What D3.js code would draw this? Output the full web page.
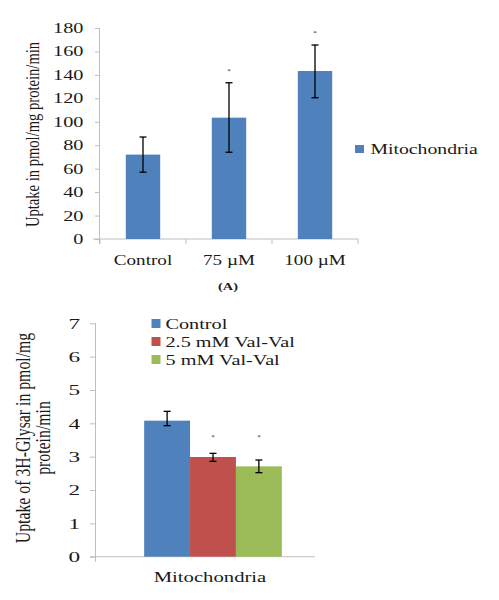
<!DOCTYPE html>
<html><head><meta charset="utf-8">
<script src="https://cdn.jsdelivr.net/npm/d3@7"></script>
<style>
html,body{margin:0;padding:0;background:#fff;}
svg{display:block;}
svg text{font-family:"Liberation Serif","Times New Roman",Times,serif !important;}
</style></head>
<body>
<svg id="chart" width="499" height="600"></svg>
<script>
// ---------- data: chart A ----------
const topCategories = ["Control", "75 \u00B5M", "100 \u00B5M"];
const topValues = [72, 103.5, 143.3];
const topErrLow = [57, 74, 120.5];
const topErrHigh = [87, 133.3, 165.5];
const topSignificant = [false, true, true];
const topYTicks = [0, 20, 40, 60, 80, 100, 120, 140, 160, 180];
const topSeriesName = "Mitochondria";
const topYTitle = "Uptake in pmol/mg protein/min";
const panelLabel = "(A)";

// ---------- data: chart B ----------
const bottomGroups = ["Mitochondria"];
const bottomSeries = ["Control", "2.5 mM Val-Val", "5 mM Val-Val"];
const bottomValues = [4.08, 2.99, 2.71];
const bottomErrLow = [3.93, 2.86, 2.52];
const bottomErrHigh = [4.36, 3.10, 2.90];
const bottomSignificant = [false, true, true];
const bottomStarLevel = 3.63;
const bottomYTicks = [0, 1, 2, 3, 4, 5, 6, 7];
const bottomYTitle = ["Uptake of 3H-Glysar in pmol/mg", "protein/min"];

const colors = ["#4F81BD", "#C0504D", "#9BBB59"];
const textColor = "#1a1a1a";
const axisColor = "#bfbfbf";
const FONT = "'Liberation Serif', 'Times New Roman', serif";
const SX = 1.38;

const svg = d3.select("#chart");

function stretchedText(g, x, y, str, opts) {
  return g.append("text")
    .attr("transform", `translate(${x},${y}) scale(${opts.sx || SX},1)`)
    .attr("text-anchor", opts.anchor || "start")
    .attr("font-family", FONT)
    .attr("font-size", opts.size)
    .attr("font-weight", opts.weight || "normal")
    .attr("fill", textColor)
    .text(str);
}

// ================= Chart A =================
(function () {
  const g = svg.append("g");
  const y = d3.scaleLinear().domain([0, 180]).range([239, 28]);
  const x = d3.scaleBand().domain(topCategories).range([100, 358])
    .paddingInner(0.6).paddingOuter(0.3);

  const yAxis = d3.axisLeft(y).tickValues(topYTicks).tickSize(5).tickFormat(d3.format("d"));
  const ya = g.append("g").attr("transform", "translate(100,0)").call(yAxis)
    .attr("font-family", FONT);
  ya.select(".domain").attr("stroke", axisColor).attr("d", `M-0.5,${y(180)}V${y(0) + 5}`);
  ya.selectAll(".tick line").attr("stroke", axisColor).attr("x2", -5);
  ya.selectAll(".tick text")
    .attr("transform", `scale(1.45,1)`)
    .attr("x", -16.5 / 1.45)
    .attr("font-size", 14)
    .attr("font-family", FONT)
    .attr("fill", textColor);

  const step = x.step();
  const bounds = [x(topCategories[0]) + x.bandwidth() / 2 - step / 2]
    .concat(topCategories.map(c => x(c) + x.bandwidth() / 2 + step / 2));
  g.append("line").attr("x1", 93).attr("x2", d3.max(bounds)).attr("y1", y(0)).attr("y2", y(0))
    .attr("stroke", axisColor);
  g.selectAll(".xt").data(bounds).join("line")
    .attr("x1", d => d).attr("x2", d => d).attr("y1", y(0)).attr("y2", y(0) + 5)
    .attr("stroke", axisColor);
  topCategories.forEach(c => {
    stretchedText(g, x(c) + x.bandwidth() / 2, y(0) + 26, c, { size: 14.5, anchor: "middle", sx: 1.32 });
  });

  g.selectAll(".bar").data(topValues).join("rect")
    .attr("x", (d, i) => x(topCategories[i]))
    .attr("width", x.bandwidth())
    .attr("y", d => y(d))
    .attr("height", d => y(0) - y(d))
    .attr("fill", colors[0]);

  const eb = g.append("g").attr("stroke", "#000").attr("stroke-width", 1.3);
  topCategories.forEach((c, i) => {
    const cx = x(c) + x.bandwidth() / 2;
    eb.append("line").attr("x1", cx).attr("x2", cx).attr("y1", y(topErrLow[i])).attr("y2", y(topErrHigh[i]));
    eb.append("line").attr("x1", cx - 3.5).attr("x2", cx + 3.5).attr("y1", y(topErrLow[i])).attr("y2", y(topErrLow[i]));
    eb.append("line").attr("x1", cx - 3.5).attr("x2", cx + 3.5).attr("y1", y(topErrHigh[i])).attr("y2", y(topErrHigh[i]));
    if (topSignificant[i]) {
      g.append("text").attr("x", cx).attr("y", y(topErrHigh[i]) - 10)
        .attr("text-anchor", "middle").attr("font-size", 7).attr("font-family", FONT)
        .attr("fill", textColor).text("*");
    }
  });

  g.append("text")
    .attr("transform", `translate(38.5,${(y(0) + y(180)) / 2 + 1}) scale(1.3,1) rotate(-90)`)
    .attr("text-anchor", "middle").attr("font-size", 14.6).attr("font-family", FONT)
    .attr("fill", textColor)
    .text(topYTitle);

  g.append("rect").attr("x", 355).attr("y", 145).attr("width", 9).attr("height", 8).attr("fill", colors[0]);
  stretchedText(g, 370.5, 153.5, topSeriesName, { size: 14.5, sx: 1.36 });

  stretchedText(g, 228, 290, panelLabel, { size: 11, anchor: "middle", weight: "bold", sx: 1.3 });
})();

// ================= Chart B =================
(function () {
  const g = svg.append("g");
  const y = d3.scaleLinear().domain([0, 7]).range([556.7, 323.3]);
  const x0 = d3.scaleBand().domain(bottomGroups).range([96, 330]).paddingInner(0).paddingOuter(0.35);
  const x1 = d3.scaleBand().domain(bottomSeries).range([0, x0.bandwidth()]).padding(0);

  const yAxis = d3.axisLeft(y).tickValues(bottomYTicks).tickSize(6).tickFormat(d3.format("d"));
  const ya = g.append("g").attr("transform", "translate(96,0)").call(yAxis)
    .attr("font-family", FONT);
  ya.select(".domain").attr("stroke", axisColor).attr("d", `M-0.5,${y(7)}V${y(0) + 5}`);
  ya.selectAll(".tick line").attr("stroke", axisColor);
  ya.selectAll(".tick text")
    .attr("transform", `scale(1.5,1)`)
    .attr("x", -16 / 1.5)
    .attr("font-size", 15.5)
    .attr("font-family", FONT)
    .attr("fill", textColor);

  g.append("line").attr("x1", 90).attr("x2", 315).attr("y1", y(0)).attr("y2", y(0)).attr("stroke", axisColor);
  bottomGroups.forEach(gr => {
    stretchedText(g, x0(gr) + x0.bandwidth() / 2 - 3, y(0) + 25, gr, { size: 15, anchor: "middle", sx: 1.38 });
  });

  const grp = g.append("g").attr("transform", `translate(${x0(bottomGroups[0])},0)`);
  grp.selectAll("rect").data(bottomValues).join("rect")
    .attr("x", (d, i) => x1(bottomSeries[i]))
    .attr("width", x1.bandwidth())
    .attr("y", d => y(d))
    .attr("height", d => y(0) - y(d))
    .attr("fill", (d, i) => colors[i]);

  const eb = grp.append("g").attr("stroke", "#000").attr("stroke-width", 1.3);
  bottomSeries.forEach((s, i) => {
    const cx = x1(s) + x1.bandwidth() / 2;
    eb.append("line").attr("x1", cx).attr("x2", cx).attr("y1", y(bottomErrLow[i])).attr("y2", y(bottomErrHigh[i]));
    eb.append("line").attr("x1", cx - 3.5).attr("x2", cx + 3.5).attr("y1", y(bottomErrLow[i])).attr("y2", y(bottomErrLow[i]));
    eb.append("line").attr("x1", cx - 3.5).attr("x2", cx + 3.5).attr("y1", y(bottomErrHigh[i])).attr("y2", y(bottomErrHigh[i]));
    if (bottomSignificant[i]) {
      grp.append("text").attr("x", cx).attr("y", y(bottomStarLevel) + 3)
        .attr("text-anchor", "middle").attr("font-size", 7).attr("font-family", FONT)
        .attr("fill", textColor).text("*");
    }
  });

  const cy = 438;
  [30, 50].forEach((bx, k) => {
    g.append("text")
      .attr("transform", `translate(${bx},${cy}) scale(1.3,1) rotate(-90)`)
      .attr("text-anchor", "middle").attr("font-size", 15.8).attr("font-family", FONT)
      .attr("fill", textColor)
      .text(bottomYTitle[k]);
  });

  bottomSeries.forEach((s, i) => {
    const cyy = 323.5 + i * 18;
    g.append("rect").attr("x", 151.5).attr("y", cyy - 4.5).attr("width", 9).attr("height", 9).attr("fill", colors[i]);
    stretchedText(g, 165.5, cyy + 5, s, { size: 15, sx: 1.35 });
  });
})();
</script>
</body></html>
